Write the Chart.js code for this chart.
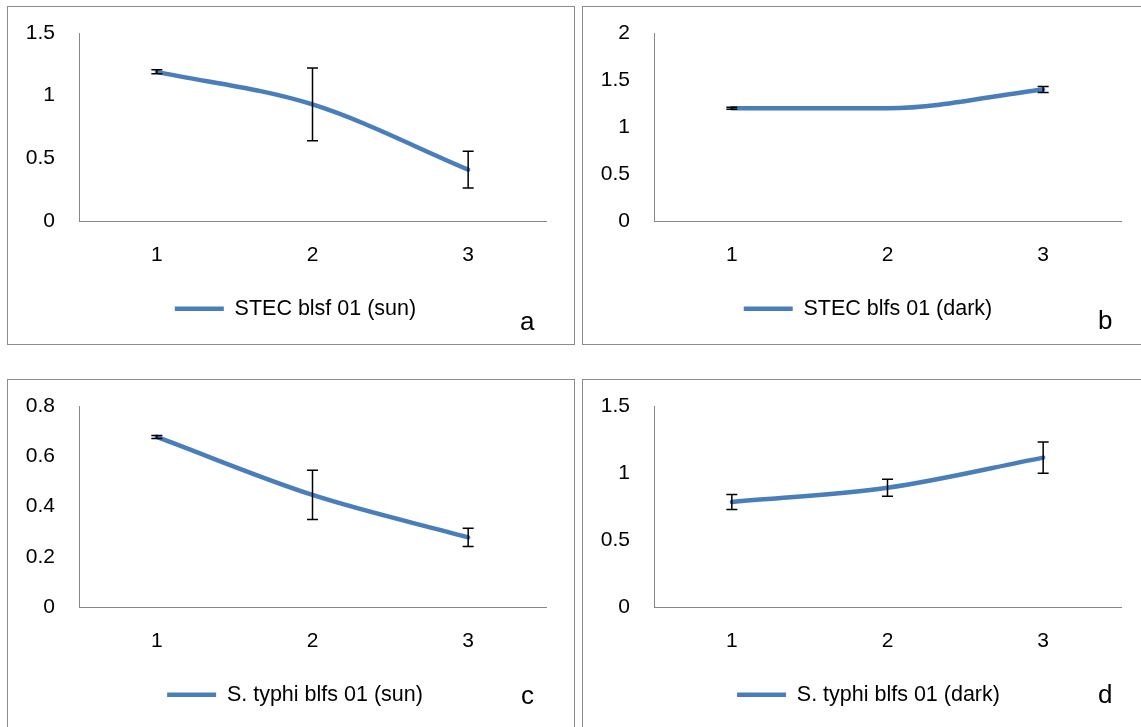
<!DOCTYPE html>
<html>
<head>
<meta charset="utf-8">
<script src="https://cdn.jsdelivr.net/npm/chart.js@4.4.1/dist/chart.umd.min.js"></script>
<style>
  body { margin: 0; background: #fff; width: 1141px; height: 727px; overflow: hidden; position: relative; }
  .panel { position: absolute; box-sizing: border-box; border: 1px solid #8c8c8c; background: #fff; }
  .panel canvas { display: block; }
  .tag { position: absolute; font-family: 'Liberation Sans', Arial, sans-serif; font-size: 26px; line-height: 1; color: #000; }
</style>
</head>
<body>
<div class="panel" style="left:7px; top:6px; width:568px; height:339px;"><canvas id="chartA" width="566" height="337"></canvas></div>
<div class="panel" style="left:582px; top:6px; width:560px; height:339px;"><canvas id="chartB" width="558" height="337"></canvas></div>
<div class="panel" style="left:7px; top:379px; width:568px; height:352px;"><canvas id="chartC" width="566" height="350"></canvas></div>
<div class="panel" style="left:582px; top:379px; width:560px; height:352px;"><canvas id="chartD" width="558" height="350"></canvas></div>
<span class="tag" style="left:520px; top:308px;">a</span>
<span class="tag" style="left:1098px; top:307px;">b</span>
<span class="tag" style="left:521px; top:682px;">c</span>
<span class="tag" style="left:1098px; top:681px;">d</span>

<script>
// x categories shared by all four panels
const xLabels = ['1', '2', '3'];

// a - STEC sun
const stecSunMeans = [1.19, 0.93, 0.41];
const stecSunErr = [0.016, 0.29, 0.147];
// b - STEC dark
const stecDarkMeans = [1.2, 1.2, 1.4];
const stecDarkErr = [0.01, 0, 0.032];
// c - S. typhi sun
const typhiSunMeans = [0.677, 0.446, 0.277];
const typhiSunErr = [0.006, 0.098, 0.036];
// d - S. typhi dark
const typhiDarkMeans = [0.784, 0.89, 1.115];
const typhiDarkErr = [0.056, 0.063, 0.117];

const seriesNames = ['STEC blsf 01 (sun)', 'STEC blfs 01 (dark)', 'S. typhi blfs 01 (sun)', 'S. typhi blfs 01 (dark)'];
const yMaxes = [1.5, 2, 0.8, 1.5];
const ySteps = [0.5, 0.5, 0.2, 0.5];

const LINE_BLUE = '#4a7ebb';
const AXIS_GREY = '#868686';

Chart.defaults.font.family = "'Liberation Sans', Arial, sans-serif";
Chart.defaults.font.size = 21;
Chart.defaults.color = '#000';

// draws the vertical error bars with caps, using the chart's own scales
const errorBars = {
    id: 'errorBars',
    afterDatasetsDraw(chart) {
        const ctx = chart.ctx;
        const yScale = chart.scales.y;
        chart.data.datasets.forEach((ds, di) => {
            const meta = chart.getDatasetMeta(di);
            if (!ds.errors) return;
            ctx.save();
            ctx.strokeStyle = '#000';
            ctx.lineWidth = 1.5;
            meta.data.forEach((pt, i) => {
                const e = ds.errors[i];
                if (!e) return;
                const top = yScale.getPixelForValue(ds.data[i] + e);
                const bot = yScale.getPixelForValue(ds.data[i] - e);
                ctx.beginPath();
                ctx.moveTo(pt.x, top); ctx.lineTo(pt.x, bot);
                ctx.moveTo(pt.x - 5.5, top); ctx.lineTo(pt.x + 5.5, top);
                ctx.moveTo(pt.x - 5.5, bot); ctx.lineTo(pt.x + 5.5, bot);
                ctx.stroke();
            });
            ctx.restore();
        });
    }
};

// leftPad shifts the centred legend; the y axis box takes the rest up to the axis line at 71px
function makeChart(id, idx, means, errs, leftPad, rightPad, canvasH, chartBottom) {
    const xHeight = 67;
    const legendH = 41.5;
    return new Chart(document.getElementById(id), {
        type: 'line',
        data: {
            labels: xLabels,
            datasets: [{
                label: seriesNames[idx],
                data: means,
                errors: errs,
                borderColor: LINE_BLUE,
                backgroundColor: LINE_BLUE,
                borderWidth: 4.5,
                borderCapStyle: 'round',
                borderJoinStyle: 'round',
                cubicInterpolationMode: 'monotone',
                pointRadius: 0,
                pointStyle: 'line',
                fill: false
            }]
        },
        options: {
            responsive: false,
            animation: false,
            devicePixelRatio: 1,
            layout: {
                padding: { top: 26, left: leftPad, right: 0, bottom: canvasH - chartBottom - xHeight - legendH }
            },
            scales: {
                x: {
                    offset: true,
                    grid: { display: false, drawTicks: false },
                    border: { display: true, color: AXIS_GREY, width: 1 },
                    ticks: { padding: 22, color: '#000' },
                    afterFit(scale) {
                        scale.height = xHeight;
                        scale.paddingLeft = 0; scale.paddingRight = 0;
                    }
                },
                y: {
                    min: 0,
                    max: yMaxes[idx],
                    grid: { display: false, drawTicks: false },
                    border: { display: true, color: AXIS_GREY, width: 1 },
                    ticks: {
                        stepSize: ySteps[idx],
                        padding: 24,
                        color: '#000',
                        callback: v => String(+v.toFixed(2))
                    },
                    afterFit(scale) {
                        scale.width = 71 - leftPad;
                        scale.paddingTop = 0; scale.paddingBottom = 0;
                    }
                },
                // empty spacer on the right so the legend stays centred on the whole panel
                spacer: {
                    type: 'linear',
                    position: 'right',
                    grid: { display: false, drawTicks: false },
                    border: { display: false },
                    ticks: { display: false },
                    afterFit(scale) {
                        scale.width = rightPad;
                        scale.paddingTop = 0; scale.paddingBottom = 0;
                    }
                }
            },
            plugins: {
                legend: {
                    position: 'bottom',
                    labels: {
                        usePointStyle: true,
                        pointStyleWidth: 49,
                        padding: 10,
                        color: '#000',
                        font: { size: 21.5 }
                    }
                },
                tooltip: { enabled: false }
            }
        },
        plugins: [errorBars]
    });
}

makeChart('chartA', 0, stecSunMeans, stecSunErr, 9, 28, 337, 214);
makeChart('chartB', 1, stecDarkMeans, stecDarkErr, 12, 20, 337, 214);
makeChart('chartC', 2, typhiSunMeans, typhiSunErr, 8, 28, 350, 227);
makeChart('chartD', 3, typhiDarkMeans, typhiDarkErr, 13, 20, 350, 227);
</script>
</body>
</html>
